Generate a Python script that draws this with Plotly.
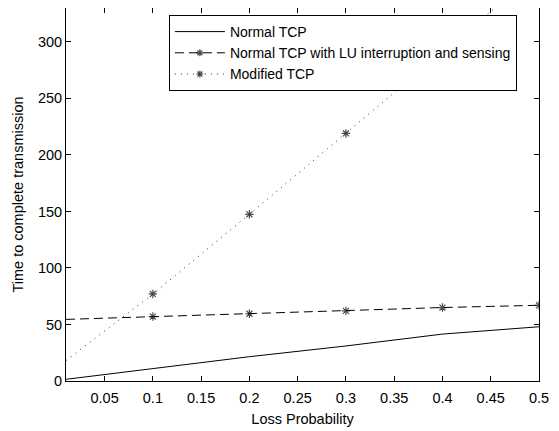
import plotly.graph_objects as go

x_line = [0.01, 0.1, 0.2, 0.3, 0.4, 0.5]
normal_tcp = [1.5, 11, 21.5, 31, 41.5, 48]
normal_lu = [54.5, 57, 59.5, 62, 65, 67]
modified_tcp = [18, 77, 147.5, 219, 291, 363]
marker_sizes = [0, 7, 7, 7, 7, 7]

x_ticks = [0.05, 0.1, 0.15, 0.2, 0.25, 0.3, 0.35, 0.4, 0.45, 0.5]
y_ticks = [0, 50, 100, 150, 200, 250, 300]

FAM = "Liberation Sans, Arial, sans-serif"
font = dict(family=FAM, size=14.5, color="black")

fig = go.Figure()
fig.add_trace(go.Scatter(x=x_line, y=normal_tcp, mode="lines", name="Normal TCP",
                         line=dict(color="black", width=1)))
fig.add_trace(go.Scatter(x=x_line, y=normal_lu, mode="lines+markers",
                         name="Normal TCP with LU interruption and sensing",
                         line=dict(color="black", width=1, dash="9px,5px"),
                         marker=dict(symbol="asterisk-open", size=marker_sizes, color="black",
                                     line=dict(color="black", width=1.2))))
fig.add_trace(go.Scatter(x=x_line, y=modified_tcp, mode="lines+markers",
                         name="Modified TCP",
                         line=dict(color="#333333", width=1, dash="1px,5px"),
                         marker=dict(symbol="asterisk-open", size=marker_sizes, color="black",
                                     line=dict(color="black", width=1.2))))

axis_common = dict(showline=True, linecolor="black", linewidth=1, mirror="allticks",
                   ticks="inside", ticklen=5, tickcolor="black", showgrid=False,
                   zeroline=False, tickfont=font, automargin=False)

# page body has an 8px default margin; figure is sized to fill the 559x431 window
fig.update_layout(
    width=551, height=423,
    margin=dict(l=58, r=20, t=0, b=50),
    paper_bgcolor="white", plot_bgcolor="white",
    font=font,
    xaxis=dict(range=[0.01, 0.5], tickvals=x_ticks, ticktext=[str(v) for v in x_ticks],
               ticklabelstandoff=4,
               title=dict(text="Loss Probability", font=font, standoff=8), **axis_common),
    yaxis=dict(range=[0, 330], tickvals=y_ticks,
               title=dict(text="Time to complete transmission", font=font, standoff=10), **axis_common),
    legend=dict(x=(169 - 66) / 473.5, y=(381 - 15) / 373.0, xanchor="left", yanchor="top",
                bordercolor="black", borderwidth=1, bgcolor="white",
                font=dict(family=FAM, size=14, color="black"),
                tracegroupgap=0, itemwidth=50),
    showlegend=True,
)

fig.write_html("out.html")
